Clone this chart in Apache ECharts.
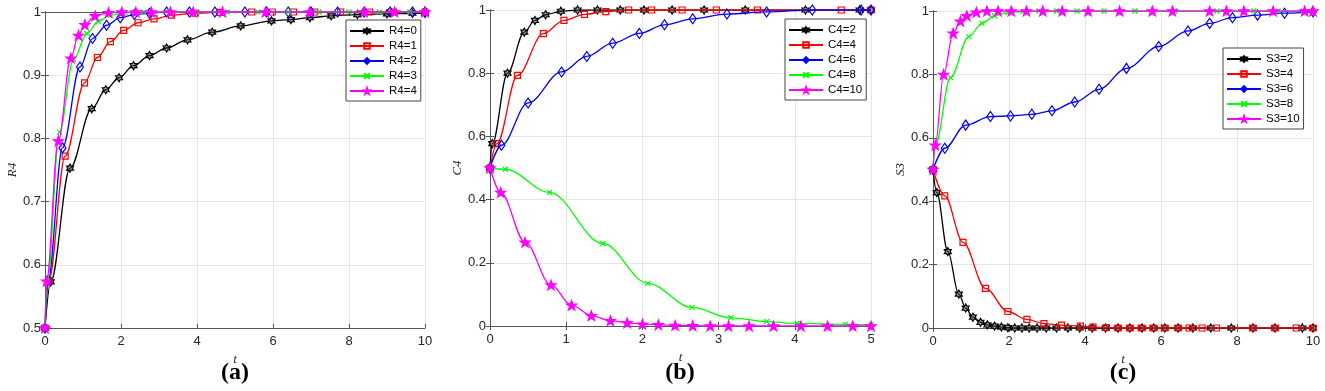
<!DOCTYPE html>
<html>
<head>
<meta charset="utf-8">
<script src="https://cdn.jsdelivr.net/npm/echarts@6/dist/echarts.min.js"></script>
<style>
  html, body { margin: 0; padding: 0; background: #fff; }
  #main { width: 1325px; height: 391px; }
</style>
</head>
<body>
<div id="main"></div>
<script>
// panel (a): R4 values, [t, value]
var r4_0 = [[0,0.5],[0.15,0.573],[0.66,0.753],[1.23,0.847],[1.6,0.877],[1.95,0.896],[2.33,0.915],[2.75,0.931],[3.2,0.943],[3.75,0.956],[4.4,0.968],[5.15,0.978],[5.96,0.986],[6.47,0.988],[6.97,0.991],[7.53,0.994],[8.22,0.996],[9.0,0.997],[9.67,0.998],[10,0.998]];
var r4_1 = [[0,0.5],[0.1,0.575],[0.53,0.772],[1.04,0.888],[1.38,0.928],[1.72,0.953],[2.07,0.971],[2.45,0.983],[2.87,0.989],[3.33,0.995],[3.95,0.998],[4.6,0.9995],[5.44,1],[5.98,1],[6.54,1],[7.1,1],[7.78,1],[8.54,1],[9.17,1],[10,1]];
var r4_2 = [[0,0.5],[0.08,0.575],[0.46,0.785],[0.92,0.913],[1.25,0.958],[1.62,0.979],[1.98,0.991],[2.35,0.996],[2.75,0.998],[3.2,1],[3.8,1],[4.47,1],[5.26,1],[5.83,1],[6.4,1],[7.0,1],[7.7,1],[8.4,1],[9.08,1],[9.67,1],[10,1]];
var r4_3 = [[0,0.5],[0.06,0.574],[0.38,0.81],[0.75,0.925],[1.1,0.966],[1.4,0.985],[1.72,0.995],[2.1,0.999],[2.6,1],[3.3,1],[4.0,1],[4.8,1],[5.6,1],[6.4,1],[7.2,1],[8.0,1],[8.8,1],[9.6,1],[10,1]];
var r4_4 = [[0,0.5],[0.04,0.574],[0.35,0.796],[0.68,0.927],[0.88,0.963],[1.05,0.98],[1.32,0.994],[1.67,0.999],[2.02,1],[2.39,1],[2.8,1],[3.3,1],[3.9,1],[4.67,1],[5.8,1],[6.96,1],[8.4,1],[9.2,1],[10,1]];

// panel (b): C4 values
var c4_2 = [[0,0.5],[0.03,0.577],[0.23,0.8],[0.45,0.93],[0.59,0.967],[0.73,0.985],[0.93,0.996],[1.15,1],[1.41,1],[1.71,1],[2.02,1],[2.39,1],[2.81,1],[3.35,1],[4.14,1],[4.85,1],[5,1]];
var c4_4 = [[0,0.5],[0.09,0.577],[0.36,0.793],[0.7,0.925],[0.97,0.967],[1.24,0.986],[1.52,0.995],[1.82,1],[2.12,1],[2.52,1],[2.97,1],[3.51,1],[4.61,1],[5,1]];
var c4_6 = [[0,0.5],[0.15,0.572],[0.5,0.706],[0.94,0.804],[1.27,0.853],[1.61,0.895],[1.96,0.926],[2.29,0.953],[2.66,0.972],[3.11,0.987],[3.63,0.994],[4.23,1],[4.87,1],[5,1]];
var c4_8 = [[0,0.5],[0.2,0.496],[0.78,0.423],[1.48,0.261],[2.07,0.135],[2.65,0.059],[3.16,0.026],[3.63,0.014],[4.03,0.008],[4.66,0.005],[5,0.004]];
var c4_10 = [[0,0.5],[0.14,0.423],[0.46,0.265],[0.8,0.13],[1.07,0.066],[1.33,0.033],[1.58,0.017],[1.8,0.01],[2.0,0.006],[2.21,0.004],[2.43,0.002],[2.66,0.001],[2.89,0],[3.13,0],[3.4,0],[3.72,0],[4.08,0],[4.43,0],[4.76,0],[5,0]];

// panel (c): S3 values
var s3_2 = [[0,0.5],[0.1,0.427],[0.39,0.241],[0.68,0.107],[0.86,0.063],[1.05,0.034],[1.25,0.018],[1.43,0.01],[1.62,0.006],[1.8,0.003],[1.97,0.001],[2.15,0],[2.34,0],[2.53,0],[2.74,0],[2.98,0],[3.25,0],[3.55,0],[3.86,0],[4.19,0],[4.54,0],[4.87,0],[5.18,0],[5.5,0],[5.81,0],[6.1,0],[6.45,0],[6.84,0],[7.31,0],[7.85,0],[8.42,0],[9.0,0],[9.72,0],[10,0]];
var s3_4 = [[0,0.5],[0.31,0.417],[0.79,0.27],[1.38,0.125],[1.97,0.052],[2.47,0.027],[2.92,0.014],[3.38,0.009],[3.88,0.006],[4.21,0.003],[4.56,0.001],[4.87,0],[5.18,0],[5.48,0],[5.79,0],[6.1,0],[6.45,0],[6.74,0],[7.08,0],[7.46,0],[8.42,0],[9.0,0],[9.56,0],[10,0]];
var s3_6 = [[0,0.5],[0.31,0.567],[0.86,0.64],[1.51,0.667],[2.04,0.669],[2.6,0.674],[3.13,0.685],[3.73,0.713],[4.37,0.753],[5.09,0.819],[5.94,0.888],[6.71,0.937],[7.28,0.961],[7.88,0.979],[8.54,0.987],[9.25,0.993],[10,0.998]];
var s3_8 = [[0,0.5],[0.06,0.576],[0.46,0.79],[0.94,0.919],[1.29,0.961],[1.62,0.985],[1.97,0.995],[2.37,0.998],[2.79,1],[3.25,1],[3.79,1],[4.5,1],[5.31,1],[6.36,1],[7.47,1],[8.44,1],[9.08,1],[9.74,1],[10,1]];
var s3_10 = [[0,0.5],[0.06,0.577],[0.28,0.8],[0.53,0.93],[0.72,0.968],[0.89,0.985],[1.14,0.996],[1.42,1],[1.71,1],[2.06,1],[2.46,1],[2.89,1],[3.4,1],[4.08,1],[4.91,1],[5.77,1],[6.3,1],[7.28,1],[7.72,1],[8.18,1],[8.95,1],[9.78,1],[10,1]];

var namesA = ['R4=0','R4=1','R4=2','R4=3','R4=4'];
var namesB = ['C4=2','C4=4','C4=6','C4=8','C4=10'];
var namesC = ['S3=2','S3=4','S3=6','S3=8','S3=10'];
var panelLabels = ['(a)','(b)','(c)'];
var yNames = ['R4','C4','S3'];

var HEX = 'path://M0,-10L2.89,-5L8.66,-5L5.77,0L8.66,5L2.89,5L0,10L-2.89,5L-8.66,5L-5.77,0L-8.66,-5L-2.89,-5Z';
var STAR = 'path://M0,-10L2.35,-3.24L9.51,-3.09L3.8,1.24L5.88,8.09L0,4L-5.88,8.09L-3.8,1.24L-9.51,-3.09L-2.35,-3.24Z';
var CROSS = 'path://M0,0L10,10M10,0L0,10';

// marker style per curve index (black, red, blue, green, magenta)
var styles = [
    {color: '#000000', symbol: HEX, size: 8, fill: 'rgba(60,60,60,0.45)'},
    {color: '#ff0000', symbol: 'rect', size: 6, fill: 'rgba(255,255,255,0)'},
    {color: '#0000ff', symbol: 'diamond', size: [7, 10], fill: 'rgba(255,255,255,0)'},
    {color: '#00ff00', symbol: CROSS, size: 5, fill: 'rgba(255,255,255,0)'},
    {color: '#ff00ff', symbol: STAR, size: 10, fill: '#ff00ff'}
];

var AX = '#555555';
var FONT = 'Arial, "Liberation Sans", Helvetica, sans-serif';
var SERIF = '"Times New Roman", "Liberation Serif", "DejaVu Serif", serif';

function mkSeries(name, data, k, gi) {
    var st = styles[k];
    return {
        type: 'line',
        name: name,
        xAxisIndex: gi * 2,
        yAxisIndex: gi * 2,
        data: data,
        smooth: 0.35,
        smoothMonotone: 'x',
        color: st.color,
        symbol: st.symbol,
        symbolSize: st.size,
        symbolKeepAspect: true,
        showAllSymbol: true,
        lineStyle: {color: st.color, width: 1.3},
        itemStyle: {color: st.fill, borderColor: st.color, borderWidth: 1.2},
        emphasis: {disabled: true},
        animation: false,
        z: 2 + k
    };
}

var grids = [
    {left: 45, top: 12, width: 380, height: 316},
    {left: 490, top: 10, width: 381, height: 316},
    {left: 933, top: 11, width: 380, height: 317}
];
var xMax = [10, 5, 10];
var xStep = [2, 1, 2];
var yMin = [0.5, 0, 0];
var yStep = [0.1, 0.2, 0.2];

var xAxes = [], yAxes = [];
grids.forEach(function (g, i) {
    var tick = {show: true, inside: true, length: 4, lineStyle: {color: AX}};
    var line = {show: true, lineStyle: {color: AX, width: 1}};
    xAxes.push({
        gridIndex: i, type: 'value', min: 0, max: xMax[i], interval: xStep[i],
        position: 'bottom', axisLine: line, axisTick: tick,
        axisLabel: {color: '#262626', fontSize: 13, fontFamily: FONT, margin: 7},
        splitLine: {show: true, lineStyle: {color: '#e6e6e6'}},
        name: 't', nameLocation: 'middle', nameGap: 22,
        nameTextStyle: {fontFamily: SERIF, fontStyle: 'italic', fontSize: 13, color: '#262626'}
    });
    xAxes.push({
        gridIndex: i, type: 'value', min: 0, max: xMax[i], interval: xStep[i],
        position: 'top', axisLine: line, axisTick: tick,
        axisLabel: {show: false}, splitLine: {show: false}
    });
    yAxes.push({
        gridIndex: i, type: 'value', min: yMin[i], max: 1, interval: yStep[i],
        position: 'left', axisLine: line, axisTick: tick,
        axisLabel: {color: '#262626', fontSize: 13, fontFamily: FONT, margin: 4},
        splitLine: {show: true, lineStyle: {color: '#e6e6e6'}},
        name: yNames[i], nameLocation: 'middle', nameGap: 26,
        nameTextStyle: {fontFamily: SERIF, fontStyle: 'italic', fontSize: 13, color: '#262626'}
    });
    yAxes.push({
        gridIndex: i, type: 'value', min: yMin[i], max: 1, interval: yStep[i],
        position: 'right', axisLine: line, axisTick: tick,
        axisLabel: {show: false}, splitLine: {show: false}
    });
});

var series = [];
[r4_0, r4_1, r4_2, r4_3, r4_4].forEach(function (d, k) { series.push(mkSeries(namesA[k], d, k, 0)); });
[c4_2, c4_4, c4_6, c4_8, c4_10].forEach(function (d, k) { series.push(mkSeries(namesB[k], d, k, 1)); });
[s3_2, s3_4, s3_6, s3_8, s3_10].forEach(function (d, k) { series.push(mkSeries(namesC[k], d, k, 2)); });

function mkLegend(names, left, top) {
    return {
        data: names, orient: 'vertical', left: left, top: top,
        selectedMode: false,
        backgroundColor: '#ffffff', borderColor: '#444', borderWidth: 1, borderRadius: 0,
        padding: [5, 4, 4, 3], itemGap: 3, itemWidth: 34, itemHeight: 7,
        textStyle: {fontSize: 11.5, fontFamily: FONT, color: '#000', height: 11, lineHeight: 11}
    };
}

var labelX = [235, 680, 1123];
var graphics = panelLabels.map(function (t, i) {
    return {
        type: 'text', x: labelX[i], y: 373,
        style: {
            text: t, textAlign: 'center', textVerticalAlign: 'middle',
            font: 'bold 24px ' + SERIF, fill: '#000'
        }
    };
});

var myChart = echarts.init(document.getElementById('main'));
var option = {
    backgroundColor: '#ffffff',
    animation: false,
    grid: grids,
    xAxis: xAxes,
    yAxis: yAxes,
    legend: [
        mkLegend(namesA, 346, 20),
        mkLegend(namesB, 785, 19),
        mkLegend(namesC, 1223, 48)
    ],
    graphic: graphics,
    series: series
};
myChart.setOption(option);
</script>
</body>
</html>
